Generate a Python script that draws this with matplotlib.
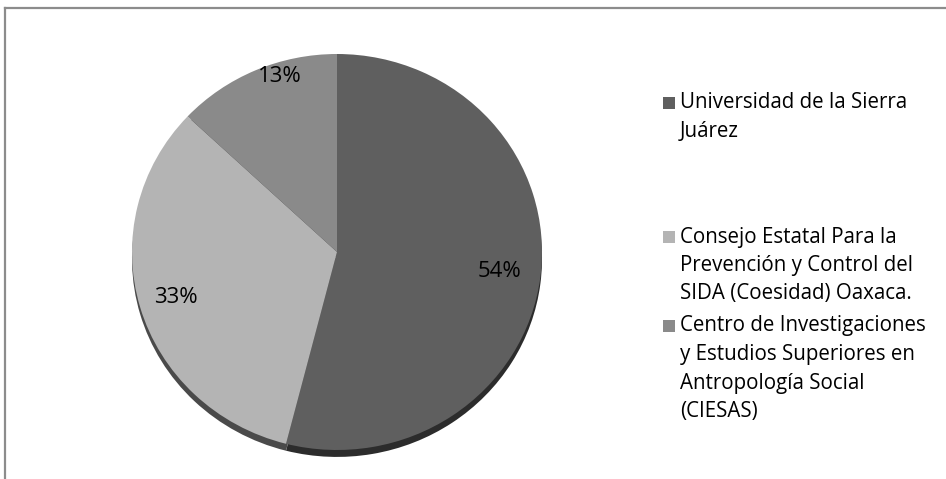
import matplotlib.pyplot as plt
from matplotlib.lines import Line2D
from matplotlib.patches import Rectangle
import numpy as np

plt.rcParams['font.family'] = ['Open Sans', 'DejaVu Sans']

categories = ['Universidad de la Sierra\nJuárez',
              'Consejo Estatal Para la\nPrevención y Control del\nSIDA (Coesidad) Oaxaca.',
              'Centro de Investigaciones\ny Estudios Superiores en\nAntropología Social\n(CIESAS)']
values = [54, 33, 13]
colors = ['#5f5f5f', '#b4b4b4', '#8a8a8a']
rim_colors = ['#2c2c2c', '#4a4a4a', '#434343']

W, H = 946, 479
fig = plt.figure(figsize=(W / 100, H / 100), dpi=100)

# border (top and left only, the rest runs off the picture)
fig.add_artist(Line2D([5 / W, 1], [1 - 8 / H, 1 - 8 / H], color='#8c8c8c', lw=1.6))
fig.add_artist(Line2D([5 / W, 5 / W], [0, 1 - 8 / H], color='#8c8c8c', lw=1.6))

# pie, slightly flattened like the 3d excel look
ax = fig.add_axes([132 / W, (H - 450) / H, 410 / W, 396 / H])
ax.pie(values, colors=rim_colors, startangle=90, counterclock=False,
       center=(0, -0.035), radius=1.0, wedgeprops=dict(linewidth=0))
wedges, _ = ax.pie(values, colors=colors, startangle=90, counterclock=False,
                   radius=1.0, wedgeprops=dict(linewidth=0))
ax.set_aspect('auto')
ax.set_xlim(-1, 1)
ax.set_ylim(-1, 1)
ax.axis('off')

dist = [0.8, 0.82, 0.93]
for w, v, d in zip(wedges, values, dist):
    a = np.deg2rad((w.theta1 + w.theta2) / 2 - (6 if v == 13 else 0))
    ax.text(d * np.cos(a), d * np.sin(a), f'{v}%', ha='center', va='center',
            fontsize=16, color='#000000')

# legend drawn by hand so the spacing matches
first_y = [103, 237, 326]
step = 28.5
for lab, c, y0 in zip(categories, colors, first_y):
    fig.add_artist(Rectangle((663 / W, 1 - (y0 + 6) / H), 12 / W, 12 / H,
                             facecolor=c, edgecolor='none'))
    for i, line in enumerate(lab.split('\n')):
        fig.text(680 / W, 1 - (y0 + i * step) / H, line, ha='left', va='center',
                 fontsize=14.8, color='#000000')

fig.savefig('out.png', dpi=100)
